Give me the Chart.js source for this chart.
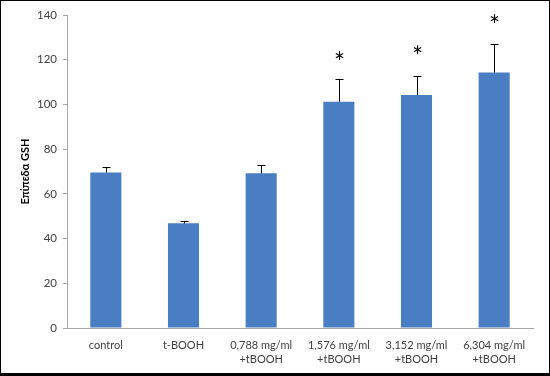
<!DOCTYPE html>
<html lang="el">
<head>
<meta charset="UTF-8" />
<title>Επίπεδα GSH</title>
<script src="https://cdn.jsdelivr.net/npm/chart.js"></script>
<style>
  html, body { margin: 0; padding: 0; background: #fff; }
  .frame { width: 550px; height: 376px; box-sizing: border-box; border: 1px solid #000; border-bottom-width: 3px; }
  .frame canvas { display: block; }
</style>
</head>
<body>
<div class="frame">
  <canvas id="gshChart" width="548" height="372"></canvas>
</div>
<script>
  const categories = ["control", "t-BOOH", ["0,788 mg/ml", "+tBOOH"], ["1,576 mg/ml", "+tBOOH"], ["3,152 mg/ml", "+tBOOH"], ["6,304 mg/ml", "+tBOOH"]];
  const gshValues = [69.6, 46.8, 69.2, 101.2, 104.2, 114.3];
  const errPlus = [2.3, 1.2, 3.6, 10.3, 8.6, 12.6];
  const starAt = [null, null, null, 120.8, 123.6, 137.4];
  const yTicks = [0, 20, 40, 60, 80, 100, 120, 140];

  const fontFamily = "Lato, 'Open Sans', sans-serif";

  // error bars (plus only) and significance stars
  const extrasPlugin = {
    id: "extras",
    afterDatasetsDraw(chart) {
      const ctx = chart.ctx;
      const x = chart.scales.x, y = chart.scales.y;
      ctx.save();
      ctx.strokeStyle = "#000";
      ctx.lineWidth = 1;
      gshValues.forEach((v, i) => {
        const cx = Math.round(x.getPixelForValue(i)) + 0.5;
        const top = Math.round(y.getPixelForValue(v + errPlus[i])) + 0.5;
        const base = y.getPixelForValue(v);
        ctx.beginPath();
        ctx.moveTo(cx, base);
        ctx.lineTo(cx, top);
        ctx.moveTo(cx - 4, top);
        ctx.lineTo(cx + 4, top);
        ctx.stroke();
        if (starAt[i] !== null) {
          ctx.fillStyle = "#000";
          ctx.font = "26px " + fontFamily;
          ctx.textAlign = "center";
          ctx.textBaseline = "middle";
          ctx.fillText("*", cx, y.getPixelForValue(starAt[i]) + 6);
        }
      });
      ctx.restore();
    }
  };

  new Chart(document.getElementById("gshChart").getContext("2d"), {
    type: "bar",
    data: {
      labels: categories,
      datasets: [{
        label: "GSH",
        data: gshValues,
        backgroundColor: "#4a7ec2",
        borderWidth: 0,
        categoryPercentage: 1,
        barPercentage: 0.4
      }]
    },
    options: {
      responsive: false,
      animation: false,
      layout: { padding: { top: 14, right: 16, left: 14, bottom: 0 } },
      plugins: { legend: { display: false }, tooltip: { enabled: false } },
      scales: {
        x: {
          grid: { display: false, drawTicks: false },
          border: { color: "#a6a6a6", width: 1 },
          ticks: { color: "#404040", font: { family: fontFamily, size: 11, lineHeight: 1.3 }, padding: 10, maxRotation: 0, autoSkip: false },
          afterFit(scale) { scale.height = 45; }
        },
        y: {
          min: 0,
          max: 140,
          afterBuildTicks(scale) { scale.ticks = yTicks.map(v => ({ value: v })); },
          grid: { display: true, drawOnChartArea: false, tickLength: 4, color: "#a6a6a6" },
          border: { color: "#a6a6a6", width: 1 },
          ticks: { color: "#404040", font: { family: fontFamily, size: 11.5 }, padding: 6 },
          title: { display: true, text: "Επίπεδα GSH", color: "#000", font: { family: fontFamily, size: 11, weight: "bold" }, padding: { top: 4, bottom: 0 } },
          afterFit(scale) { scale.width = 52; }
        }
      }
    },
    plugins: [extrasPlugin]
  });
</script>
</body>
</html>
